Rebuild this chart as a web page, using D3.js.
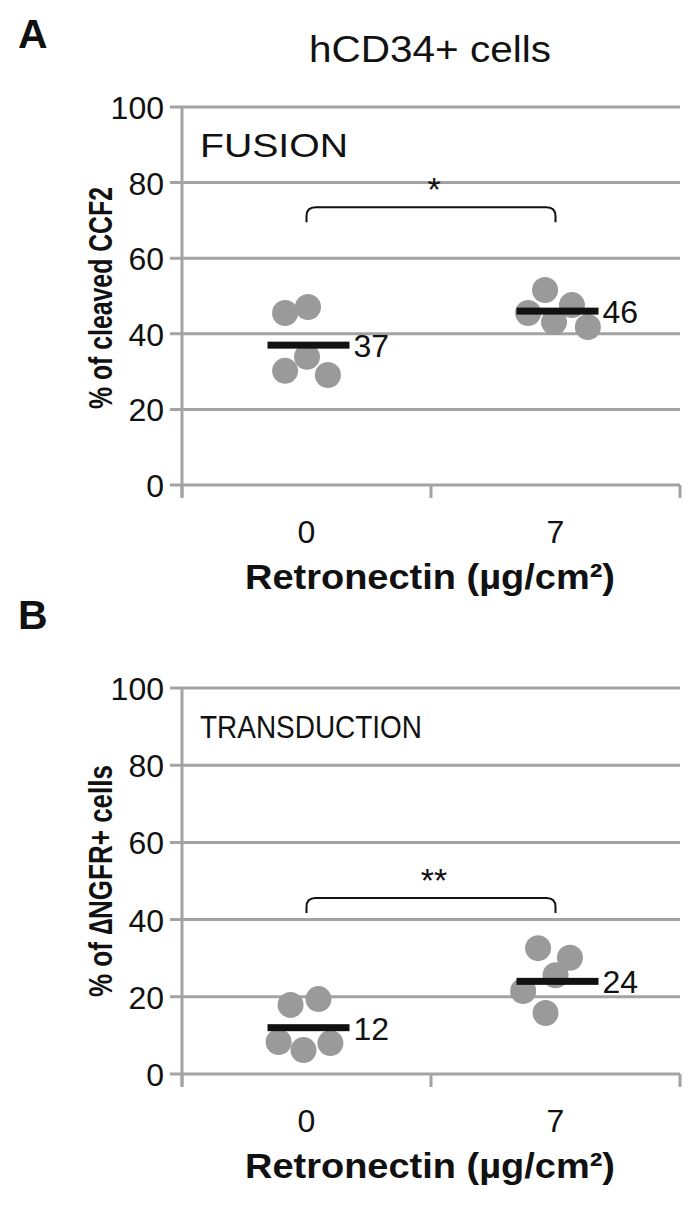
<!DOCTYPE html>
<html>
<head>
<meta charset="utf-8">
<script src="https://cdn.jsdelivr.net/npm/d3@7"></script>
<style>
  body { margin: 0; background: #fff; }
  text { font-family: "Liberation Sans", Arial, sans-serif; fill: #111; }
</style>
</head>
<body>
<script>
// data
var categories = ["0", "7"];
var yTicks = [0, 20, 40, 60, 80, 100];

var fusion0 = [45.5, 47.1, 33.9, 30.2, 29.1];
var fusion7 = [51.6, 47.6, 45.5, 43.1, 41.8];
var fusionMeans = [37, 46];

var trans0 = [17.9, 19.4, 8.3, 6.2, 8.0];
var trans7 = [32.6, 30.1, 25.6, 21.5, 15.8];
var transMeans = [12, 24];

// horizontal spread of the dots, as a fraction of band width
var fusionJitter0 = [-0.086, 0.006, 0.002, -0.086, 0.086];
var fusionJitter7 = [-0.042, 0.066, -0.11, -0.006, 0.13];
var transJitter0 = [-0.064, 0.048, -0.112, -0.012, 0.096];
var transJitter7 = [-0.07, 0.058, 0.0, -0.13, -0.04];

var W = 695, H = 1212;

var svg = d3.select("body").append("svg")
  .attr("width", W).attr("height", H);

function label(g, x, y, str, size, weight, anchor, len) {
  var t = g.append("text")
    .attr("x", x).attr("y", y)
    .attr("text-anchor", anchor || "start")
    .style("font-size", size + "px")
    .style("font-weight", weight || "normal")
    .text(str);
  if (len) t.attr("textLength", len).attr("lengthAdjust", "spacingAndGlyphs");
  return t;
}

function drawPanel(p) {
  var g = svg.append("g");
  var x = d3.scaleBand().domain(categories).range([182, 680]);
  var y = d3.scaleLinear().domain([0, 100]).range([p.bottom, p.top]);

  // gridlines
  g.selectAll("line.grid").data(yTicks).enter().append("line")
    .attr("x1", 170).attr("x2", 680)
    .attr("y1", function(d) { return y(d); })
    .attr("y2", function(d) { return y(d); })
    .attr("stroke", "#a3a3a3").attr("stroke-width", 3);

  // y axis line
  g.append("line")
    .attr("x1", 182).attr("x2", 182)
    .attr("y1", y(100)).attr("y2", y(0) + 12)
    .attr("stroke", "#a3a3a3").attr("stroke-width", 3);

  // x ticks at band edges
  var edges = [x.range()[0], x(categories[1]), x.range()[1]];
  g.selectAll("line.xt").data(edges).enter().append("line")
    .attr("x1", function(d) { return d; }).attr("x2", function(d) { return d; })
    .attr("y1", y(0)).attr("y2", y(0) + 13)
    .attr("stroke", "#a3a3a3").attr("stroke-width", 3);

  yTicks.forEach(function(t) {
    label(g, 164, y(t) + 12, String(t), 32, "normal", "end");
  });

  categories.forEach(function(c) {
    label(g, x(c) + x.bandwidth() / 2, y(0) + 58, c, 32, "normal", "middle");
  });

  label(g, 430, y(0) + p.titleGap, "Retronectin (\u00b5g/cm\u00b2)", 35, "bold", "middle", 370);

  // rotated y title
  g.append("text")
    .attr("transform", "translate(112," + p.yTitleMid + ") rotate(-90)")
    .attr("text-anchor", "middle")
    .style("font-size", "33px").style("font-weight", "bold")
    .attr("textLength", p.yTitleLen).attr("lengthAdjust", "spacingAndGlyphs")
    .text(p.yTitle);

  label(g, 200, p.top + 50, p.label, p.labelSize, "normal", "start", p.labelLen);
  label(g, 18, p.top - 59, p.letter, 41, "bold", "start");

  // dots
  var groups = [p.dots0, p.dots7];
  var jit = [p.jit0, p.jit7];
  groups.forEach(function(vals, i) {
    var cx = x(categories[i]) + x.bandwidth() / 2;
    g.selectAll(null).data(vals).enter().append("circle")
      .attr("cx", function(d, j) { return cx + jit[i][j] * x.bandwidth(); })
      .attr("cy", function(d) { return y(d); })
      .attr("r", 13)
      .attr("fill", "#9a9a9a");
  });

  // mean bars + labels
  p.means.forEach(function(m, i) {
    var cx = x(categories[i]) + x.bandwidth() / 2 + 2;
    g.append("rect")
      .attr("x", cx - 41).attr("width", 82)
      .attr("y", y(m) - 3.5).attr("height", 7)
      .attr("fill", "#111");
    label(g, cx + 45, y(m) + 12, String(m), 32, "normal", "start");
  });

  // significance bracket
  var bx0 = x(categories[0]) + x.bandwidth() / 2;
  var bx1 = x(categories[1]) + x.bandwidth() / 2;
  var by = y(p.bracket), r = 9, drop = 15;
  var path = d3.path();
  path.moveTo(bx0, by + drop);
  path.lineTo(bx0, by + r);
  path.quadraticCurveTo(bx0, by, bx0 + r, by);
  path.lineTo(bx1 - r, by);
  path.quadraticCurveTo(bx1, by, bx1, by + r);
  path.lineTo(bx1, by + drop);
  g.append("path").attr("d", path.toString())
    .attr("fill", "none").attr("stroke", "#111").attr("stroke-width", 2);
  label(g, (bx0 + bx1) / 2 + 3, by - 6, p.stars, 34, "normal", "middle");
}

label(svg, 430, 62, "hCD34+ cells", 36, "normal", "middle", 242);

drawPanel({
  top: 107, bottom: 485, letter: "A", label: "FUSION", labelSize: 34, labelLen: 148,
  yTitle: "% of cleaved CCF2", yTitleMid: 298, yTitleLen: 222,
  titleGap: 104,
  dots0: fusion0, dots7: fusion7, jit0: fusionJitter0, jit7: fusionJitter7,
  means: fusionMeans, bracket: 73.5, stars: "*"
});

drawPanel({
  top: 688, bottom: 1074, letter: "B", label: "TRANSDUCTION", labelSize: 31, labelLen: 222,
  yTitle: "% of \u2206NGFR+ cells", yTitleMid: 881, yTitleLen: 232,
  titleGap: 104,
  dots0: trans0, dots7: trans7, jit0: transJitter0, jit7: transJitter7,
  means: transMeans, bracket: 45.6, stars: "**"
});
</script>
</body>
</html>
